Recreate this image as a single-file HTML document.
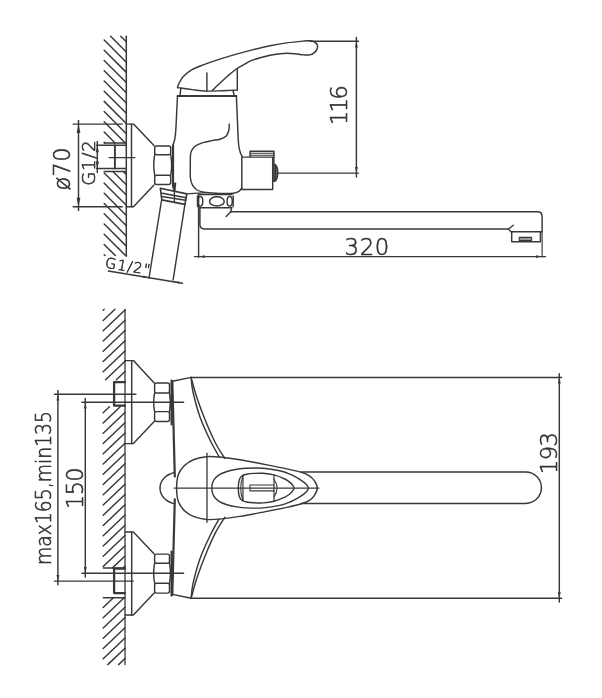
<!DOCTYPE html>
<html lang="en">
<head>
<meta charset="utf-8">
<title>Wall-mounted mixer tap - dimensional drawing</title>
<style>
html,body{margin:0;padding:0;background:#fff;}
body{width:602px;height:698px;overflow:hidden;}
svg{display:block;}
svg *{fill:none;stroke:#383838;stroke-width:1.45;stroke-linecap:round;stroke-linejoin:round;}
svg .ar{fill:#3a3a3a;stroke:none;}
svg .f{fill:#555;}
svg{will-change:transform;}
svg text{font-family:"DejaVu Sans","Liberation Sans",sans-serif;font-weight:200;fill:#333;stroke:#333;stroke-width:0.6;}
svg .bg{fill:#fff;stroke:none;}
</style>
</head>
<body>
<svg width="602" height="698" viewBox="0 0 602 698">
<rect class="bg" x="0" y="0" width="602" height="698"/>
<line x1="126.30" y1="36.20" x2="126.30" y2="256.20" style="stroke-width:1.5"/>
<path d="M120.78,36.20L126.30,41.72 M110.56,36.20L126.30,51.94 M104.20,40.06L126.30,62.16 M104.20,50.28L126.30,72.38 M104.20,60.50L126.30,82.60 M104.20,70.72L126.30,92.82 M104.20,80.94L126.30,103.04 M104.20,91.16L126.30,113.26 M104.20,101.38L126.30,123.48 M104.20,111.60L126.30,133.70 M104.20,121.82L125.28,142.90 M104.20,132.04L115.06,142.90 M104.20,142.26L104.84,142.90 M123.12,171.40L126.30,174.58 M112.90,171.40L126.30,184.80 M104.20,172.92L126.30,195.02 M104.20,183.14L126.30,205.24 M104.20,193.36L126.30,215.46 M104.20,203.58L126.30,225.68 M104.20,213.80L126.30,235.90 M104.20,224.02L126.30,246.12 M104.20,234.24L125.56,255.60 M104.20,244.46L115.34,255.60 M104.20,254.68L105.12,255.60" style="stroke-width:1.45;"/>
<line x1="104.20" y1="142.90" x2="126.30" y2="142.90"/>
<line x1="104.20" y1="171.40" x2="126.30" y2="171.40"/>
<line x1="96.60" y1="145.20" x2="126.30" y2="145.20"/>
<line x1="96.60" y1="168.40" x2="126.30" y2="168.40"/>
<line x1="114.90" y1="145.20" x2="114.90" y2="168.40" style="stroke-width:1.9"/>
<line x1="109.10" y1="157.60" x2="134.90" y2="157.60"/>
<line x1="73.20" y1="124.10" x2="122.20" y2="124.10"/>
<line x1="73.20" y1="206.80" x2="122.20" y2="206.80"/>
<line x1="78.50" y1="120.50" x2="78.50" y2="210.50"/>
<path d="M78.50,124.10 L80.40,133.10 L76.60,133.10 Z" class="ar"/>
<path d="M78.50,206.80 L76.60,197.80 L80.40,197.80 Z" class="ar"/>
<text transform="translate(69.60,169.00) rotate(-90)" font-size="22.4" text-anchor="middle" textLength="43.2" lengthAdjust="spacing">ø70</text>
<line x1="97.30" y1="141.50" x2="97.30" y2="172.50"/>
<path d="M97.30,145.20 L98.90,152.20 L95.70,152.20 Z" class="ar"/>
<path d="M97.30,168.40 L95.70,161.40 L98.90,161.40 Z" class="ar"/>
<text transform="translate(94.60,163.10) rotate(-90)" font-size="18.4" text-anchor="middle" textLength="45.5" lengthAdjust="spacing">G1/2</text>
<path d="M126.30,124.10 L133.50,124.10 L154.00,145.60"/>
<path d="M126.30,206.80 L133.50,206.80 L154.00,185.00"/>
<line x1="131.50" y1="124.10" x2="131.50" y2="206.80"/>
<path d="M156.70,146.00 L168.70,146.00 Q170.70,146.00 170.70,148.00 L170.70,152.80 Q170.70,154.80 168.70,154.80 L156.70,154.80 Q154.70,154.80 154.70,152.80 L154.70,148.00 Q154.70,146.00 156.70,146.00 Z"/>
<path d="M156.70,175.30 L168.70,175.30 Q170.70,175.30 170.70,177.30 L170.70,182.40 Q170.70,184.40 168.70,184.40 L156.70,184.40 Q154.70,184.40 154.70,182.40 L154.70,177.30 Q154.70,175.30 156.70,175.30 Z"/>
<path d="M154.70,154.80 Q152.80,165.05 154.70,175.30 M170.70,154.80 Q172.60,165.05 170.70,175.30"/>
<path d="M173.0,145.7 L173.0,186 L174.4,190.5 L175.2,183.5" style="stroke-width:2.2;"/>
<path d="M177.50,96.20 C177.38,98.50 177.08,104.37 176.80,110.00 C176.52,115.63 176.13,125.17 175.80,130.00 C175.47,134.83 175.32,136.38 174.80,139.00 C174.28,141.62 173.05,144.58 172.70,145.70"/>
<path d="M177.50,87.50 C177.78,86.75 178.23,84.83 179.20,83.00 C180.17,81.17 181.23,78.68 183.30,76.50 C185.37,74.32 188.28,71.83 191.60,69.90 C194.92,67.97 198.50,66.70 203.20,64.90 C207.90,63.10 214.27,60.90 219.80,59.10 C225.33,57.30 230.85,55.68 236.40,54.10 C241.95,52.52 247.50,50.98 253.10,49.60 C258.70,48.22 264.42,46.92 270.00,45.80 C275.58,44.68 281.07,43.68 286.60,42.90 C292.13,42.12 299.32,41.45 303.20,41.10 C307.08,40.75 308.00,40.65 309.90,40.80 C311.80,40.95 313.37,41.32 314.60,42.00 C315.83,42.68 316.90,43.72 317.30,44.90 C317.70,46.08 317.55,47.77 317.00,49.10 C316.45,50.43 315.18,51.93 314.00,52.90 C312.82,53.87 311.70,54.57 309.90,54.90 C308.10,55.23 305.70,55.10 303.20,54.90 C300.70,54.70 297.67,53.98 294.90,53.70 C292.13,53.42 289.37,53.15 286.60,53.20 C283.83,53.25 281.07,53.67 278.30,54.00 C275.53,54.33 274.20,54.22 270.00,55.20 C265.80,56.18 257.30,58.42 253.10,59.90 C248.90,61.38 247.58,62.58 244.80,64.10 C242.02,65.62 239.18,67.07 236.40,69.00 C233.62,70.93 230.87,73.33 228.10,75.70 C225.33,78.07 222.42,80.77 219.80,83.20 C217.18,85.63 213.63,89.12 212.40,90.30"/>
<path d="M177.50,87.60 C179.92,87.93 187.17,89.02 192.00,89.60 C196.83,90.18 201.50,90.92 206.50,91.10 C211.50,91.28 216.87,90.87 222.00,90.70 C227.13,90.53 234.75,90.20 237.30,90.10"/>
<line x1="237.30" y1="68.50" x2="237.30" y2="90.10"/>
<line x1="206.90" y1="72.90" x2="206.90" y2="91.30"/>
<line x1="180.80" y1="88.50" x2="180.00" y2="95.60"/>
<line x1="233.10" y1="90.60" x2="234.20" y2="95.60"/>
<line x1="177.50" y1="96.00" x2="236.40" y2="96.00" style="stroke-width:1.9"/>
<path d="M236.40,96.20 C236.53,99.33 236.93,108.53 237.20,115.00 C237.47,121.47 237.73,129.83 238.00,135.00 C238.27,140.17 238.42,143.08 238.80,146.00 C239.18,148.92 239.73,150.73 240.30,152.50 C240.87,154.27 241.88,155.92 242.20,156.60"/>
<path d="M229.20,124.20 C229.15,125.17 229.38,128.03 228.90,130.00 C228.42,131.97 227.78,134.47 226.30,136.00 C224.82,137.53 222.38,138.43 220.00,139.20 C217.62,139.97 214.83,140.03 212.00,140.60 C209.17,141.17 205.67,141.77 203.00,142.60 C200.33,143.43 197.83,144.40 196.00,145.60 C194.17,146.80 192.92,148.23 192.00,149.80 C191.08,151.37 190.78,151.72 190.50,155.00 C190.22,158.28 190.32,165.67 190.30,169.50 C190.28,173.33 190.03,175.38 190.40,178.00 C190.77,180.62 191.40,183.20 192.50,185.20 C193.60,187.20 195.08,188.83 197.00,190.00 C198.92,191.17 200.83,191.65 204.00,192.20 C207.17,192.75 212.33,193.08 216.00,193.30 C219.67,193.52 223.08,193.52 226.00,193.50 C228.92,193.48 231.50,193.47 233.50,193.20 C235.50,192.93 236.82,192.47 238.00,191.90 C239.18,191.33 239.97,190.48 240.60,189.80 C241.23,189.12 241.60,188.13 241.80,187.80"/>
<line x1="186.40" y1="193.90" x2="206.00" y2="192.60" style="stroke-width:1.2"/>
<path d="M241.80,157.10 L272.70,157.10 L272.70,189.50 L241.80,189.50 Z"/>
<path d="M250.10,157.00 L250.10,151.30 L273.90,151.30 L273.90,157.00" style="stroke-width:1.5;"/>
<line x1="250.40" y1="153.30" x2="273.80" y2="153.30" style="stroke-width:1.1"/>
<line x1="250.40" y1="155.20" x2="273.80" y2="155.20" style="stroke-width:1.1"/>
<line x1="273.90" y1="157.00" x2="273.90" y2="164.00"/>
<path d="M273.9,164.1 Q277.8,165 277.8,172.8 Q277.8,180.6 273.9,181.5 Z" style="fill:#777;"/>
<line x1="275.60" y1="164.80" x2="275.60" y2="180.80"/>
<line x1="277.80" y1="173.10" x2="358.50" y2="173.10"/>
<line x1="310.00" y1="41.20" x2="358.50" y2="41.20"/>
<line x1="356.40" y1="37.50" x2="356.40" y2="177.00"/>
<path d="M356.40,41.20 L357.85,47.40 L354.95,47.40 Z" class="ar"/>
<path d="M356.40,173.10 L354.95,166.90 L357.85,166.90 Z" class="ar"/>
<text transform="translate(346.70,105.00) rotate(-90)" font-size="23.2" text-anchor="middle" textLength="40.3" lengthAdjust="spacing">116</text>
<path d="M161.60,200.00 L149.00,278.00"/>
<path d="M184.90,204.40 L173.10,280.00"/>
<path d="M160.30,188.20 L186.90,193.90 L184.90,204.40 L161.80,199.90 Z" style="stroke-width:1.6;"/>
<line x1="162.20" y1="193.20" x2="186.20" y2="197.80" style="stroke-width:1.5"/>
<line x1="161.60" y1="196.40" x2="185.70" y2="200.20" style="stroke-width:1.5"/>
<line x1="174.40" y1="184.00" x2="174.40" y2="202.30" style="stroke-width:1.3"/>
<line x1="108.30" y1="271.00" x2="182.50" y2="283.20"/>
<path d="M149.00,277.70 L142.88,277.91 L143.27,275.55 Z" class="ar"/>
<path d="M173.30,281.70 L179.42,281.49 L179.03,283.85 Z" class="ar"/>
<text transform="translate(104.60,267.40) rotate(9.5)" font-size="14.4" text-anchor="start" textLength="45.2" lengthAdjust="spacing">G1/2&quot;</text>
<line x1="198.50" y1="194.50" x2="232.00" y2="194.50"/>
<line x1="199.00" y1="207.80" x2="231.50" y2="207.80"/>
<ellipse cx="200.4" cy="201.3" rx="2.4" ry="4.8"/>
<ellipse cx="216.9" cy="201.4" rx="7.3" ry="4.6"/>
<ellipse cx="229.7" cy="201.3" rx="2.6" ry="4.8"/>
<line x1="197.50" y1="196.00" x2="197.50" y2="206.50"/>
<line x1="233.20" y1="196.00" x2="233.20" y2="206.50"/>
<path d="M230.7,211.8 L537.5,211.8 Q542.1,211.8 542.1,216.4 L542.1,231.7"/>
<line x1="542.10" y1="231.70" x2="542.10" y2="257.00" style="stroke-width:1.15"/>
<line x1="226.20" y1="216.40" x2="230.70" y2="211.80"/>
<line x1="230.70" y1="211.80" x2="231.80" y2="207.50"/>
<path d="M199.9,207.8 L199.9,224.6 Q199.9,228.9 204.4,228.9 L508.5,228.9"/>
<path d="M513.30,225.20 L508.60,229.00 L510.80,231.60"/>
<line x1="511.00" y1="231.70" x2="542.10" y2="231.70"/>
<path d="M511.70,232.20 L511.70,241.70 L540.40,241.70 L540.40,232.20"/>
<path d="M519.2,237.4 L531.6,237.4 L531.6,240.6 L519.2,240.6 Z" style="stroke-width:1.1;fill:#999;"/>
<line x1="198.60" y1="194.50" x2="198.60" y2="257.20"/>
<line x1="194.50" y1="256.60" x2="545.50" y2="256.60"/>
<path d="M198.60,256.60 L204.80,255.15 L204.80,258.05 Z" class="ar"/>
<path d="M542.10,256.60 L535.90,258.05 L535.90,255.15 Z" class="ar"/>
<text transform="translate(366.90,254.70) rotate(0)" font-size="22.8" text-anchor="middle" textLength="44.6" lengthAdjust="spacing">320</text>
<line x1="125.00" y1="309.50" x2="125.00" y2="664.60" style="stroke-width:1.3"/>
<path d="M103.20,310.20L104.15,309.30 M103.20,320.45L114.94,309.30 M103.20,330.70L125.00,309.99 M103.20,340.95L125.00,320.24 M103.20,351.20L125.00,330.49 M103.20,361.45L125.00,340.74 M103.20,371.70L125.00,350.99 M105.57,379.70L125.00,361.24 M116.36,379.70L125.00,371.49 M103.20,412.70L109.41,406.80 M103.20,422.95L120.20,406.80 M103.20,433.20L125.00,412.49 M103.20,443.45L125.00,422.74 M103.20,453.70L125.00,432.99 M103.20,463.95L125.00,443.24 M103.20,474.20L125.00,453.49 M103.20,484.45L125.00,463.74 M103.20,494.70L125.00,473.99 M103.20,504.95L125.00,484.24 M103.20,515.20L125.00,494.49 M103.20,525.45L125.00,504.74 M103.20,535.70L125.00,514.99 M103.20,545.95L125.00,525.24 M103.20,556.20L125.00,535.49 M103.20,566.45L125.00,545.74 M112.46,567.90L125.00,555.99 M123.25,567.90L125.00,566.24 M103.20,607.45L113.36,597.80 M103.20,617.70L124.15,597.80 M103.20,627.95L125.00,607.24 M103.20,638.20L125.00,617.49 M103.20,648.45L125.00,627.74 M103.20,658.70L125.00,637.99 M107.78,664.60L125.00,648.24 M118.57,664.60L125.00,658.49" style="stroke-width:1.45;"/>
<line x1="103.30" y1="567.90" x2="125.00" y2="567.90"/>
<line x1="103.30" y1="597.80" x2="125.00" y2="597.80"/>
<path d="M125.00,360.60 L133.40,360.60 L154.20,383.00"/>
<path d="M125.00,443.60 L133.40,443.60 L154.20,421.50"/>
<line x1="131.70" y1="360.60" x2="131.70" y2="443.60"/>
<path d="M156.60,383.00 L167.50,383.00 Q169.50,383.00 169.50,385.00 L169.50,391.00 Q169.50,393.00 167.50,393.00 L156.60,393.00 Q154.60,393.00 154.60,391.00 L154.60,385.00 Q154.60,383.00 156.60,383.00 Z"/>
<path d="M156.60,411.60 L167.50,411.60 Q169.50,411.60 169.50,413.60 L169.50,419.50 Q169.50,421.50 167.50,421.50 L156.60,421.50 Q154.60,421.50 154.60,419.50 L154.60,413.60 Q154.60,411.60 156.60,411.60 Z"/>
<path d="M154.60,393.00 Q152.70,402.30 154.60,411.60 M169.50,393.00 Q171.40,402.30 169.50,411.60"/>
<path d="M125.00,382.20 L114.10,382.20 L114.10,405.70 L125.00,405.70" style="stroke-width:2.3;"/>
<path d="M125.00,532.00 L133.40,532.00 L154.20,554.10"/>
<path d="M125.00,615.00 L133.40,615.00 L154.20,593.10"/>
<line x1="131.70" y1="532.00" x2="131.70" y2="615.00"/>
<path d="M156.60,554.10 L167.50,554.10 Q169.50,554.10 169.50,556.10 L169.50,561.20 Q169.50,563.20 167.50,563.20 L156.60,563.20 Q154.60,563.20 154.60,561.20 L154.60,556.10 Q154.60,554.10 156.60,554.10 Z"/>
<path d="M156.60,583.20 L167.50,583.20 Q169.50,583.20 169.50,585.20 L169.50,591.10 Q169.50,593.10 167.50,593.10 L156.60,593.10 Q154.60,593.10 154.60,591.10 L154.60,585.20 Q154.60,583.20 156.60,583.20 Z"/>
<path d="M154.60,563.20 Q152.70,573.20 154.60,583.20 M169.50,563.20 Q171.40,573.20 169.50,583.20"/>
<path d="M125.00,568.60 L114.10,568.60 L114.10,593.10 L125.00,593.10" style="stroke-width:2.3;"/>
<line x1="171.60" y1="380.50" x2="171.60" y2="424.50" style="stroke-width:2.2"/>
<line x1="171.60" y1="551.60" x2="171.60" y2="595.60" style="stroke-width:2.2"/>
<line x1="57.90" y1="390.50" x2="57.90" y2="584.80"/>
<line x1="54.50" y1="394.20" x2="135.90" y2="394.20"/>
<line x1="54.50" y1="581.10" x2="133.40" y2="581.10"/>
<path d="M57.90,394.20 L59.35,400.40 L56.45,400.40 Z" class="ar"/>
<path d="M57.90,581.10 L56.45,574.90 L59.35,574.90 Z" class="ar"/>
<line x1="85.30" y1="398.50" x2="85.30" y2="577.00"/>
<line x1="82.00" y1="402.20" x2="183.60" y2="402.20"/>
<line x1="82.00" y1="573.30" x2="183.60" y2="573.30"/>
<path d="M85.30,402.20 L86.75,408.40 L83.85,408.40 Z" class="ar"/>
<path d="M85.30,573.30 L83.85,567.10 L86.75,567.10 Z" class="ar"/>
<text transform="translate(51.30,488.00) rotate(-90)" font-size="21" text-anchor="middle" textLength="154.0" lengthAdjust="spacingAndGlyphs">max165,min135</text>
<text transform="translate(82.80,488.20) rotate(-90)" font-size="22.4" text-anchor="middle" textLength="41.5" lengthAdjust="spacing">150</text>
<line x1="191.10" y1="377.40" x2="561.50" y2="377.40"/>
<line x1="191.10" y1="598.30" x2="561.50" y2="598.30"/>
<line x1="172.60" y1="381.30" x2="191.10" y2="377.40"/>
<line x1="172.60" y1="594.40" x2="191.10" y2="598.30"/>
<path d="M172.30,381.00 C172.52,389.17 173.18,414.08 173.60,430.00 C174.02,445.92 174.60,468.75 174.80,476.50" style="stroke-width:2.2;"/>
<path d="M172.30,594.60 C172.52,586.43 173.18,561.47 173.60,545.60 C174.02,529.73 174.60,507.10 174.80,499.40" style="stroke-width:2.2;"/>
<path d="M191.10,377.40 C192.08,380.83 194.52,390.57 197.00,398.00 C199.48,405.43 202.83,414.33 206.00,422.00 C209.17,429.67 212.87,437.93 216.00,444.00 C219.13,450.07 223.33,456.00 224.80,458.40"/>
<path d="M191.10,377.40 C191.42,379.83 191.52,385.40 193.00,392.00 C194.48,398.60 197.17,409.00 200.00,417.00 C202.83,425.00 206.83,433.42 210.00,440.00 C213.17,446.58 217.50,453.75 219.00,456.50"/>
<path d="M191.10,598.30 C192.08,594.87 194.52,585.13 197.00,577.70 C199.48,570.27 202.83,561.37 206.00,553.70 C209.17,546.03 212.87,537.77 216.00,531.70 C219.13,525.63 223.33,519.70 224.80,517.30"/>
<path d="M191.10,598.30 C191.42,595.87 191.52,590.30 193.00,583.70 C194.48,577.10 197.17,566.70 200.00,558.70 C202.83,550.70 206.83,542.28 210.00,535.70 C213.17,529.12 217.50,521.95 219.00,519.20"/>
<path d="M174.30,472.40 C173.75,472.60 172.28,473.03 171.00,473.60 C169.72,474.17 168.00,474.77 166.60,475.80 C165.20,476.83 163.65,478.27 162.60,479.80 C161.55,481.33 160.68,483.10 160.30,485.00 C159.92,486.90 159.92,489.30 160.30,491.20 C160.68,493.10 161.55,494.87 162.60,496.40 C163.65,497.93 165.20,499.37 166.60,500.40 C168.00,501.43 169.72,502.03 171.00,502.60 C172.28,503.17 173.75,503.60 174.30,503.80"/>
<path d="M176.60,488.10 C176.60,483.57 177.08,478.27 178.40,474.50 C179.72,470.73 181.90,468.00 184.50,465.50 C187.10,463.00 190.33,460.97 194.00,459.50 C197.67,458.03 201.83,457.07 206.50,456.70 C211.17,456.33 216.42,456.78 222.00,457.30 C227.58,457.82 233.13,458.67 240.00,459.80 C246.87,460.93 255.18,462.55 263.20,464.10 C271.22,465.65 281.73,467.72 288.10,469.10 C294.47,470.48 297.92,471.32 301.40,472.40 C304.88,473.48 306.85,474.23 309.00,475.60 C311.15,476.97 312.92,478.52 314.30,480.60 C315.68,482.68 317.30,485.60 317.30,488.10 C317.30,490.60 315.68,493.52 314.30,495.60 C312.92,497.68 311.15,499.23 309.00,500.60 C306.85,501.97 304.88,502.72 301.40,503.80 C297.92,504.88 294.47,505.72 288.10,507.10 C281.73,508.48 271.22,510.55 263.20,512.10 C255.18,513.65 246.87,515.27 240.00,516.40 C233.13,517.53 227.58,518.38 222.00,518.90 C216.42,519.42 211.17,519.87 206.50,519.50 C201.83,519.13 197.67,518.17 194.00,516.70 C190.33,515.23 187.10,513.20 184.50,510.70 C181.90,508.20 179.72,505.47 178.40,501.70 C177.08,497.93 176.60,492.63 176.60,488.10 Z"/>
<path d="M211.80,488.10 C211.80,485.57 212.30,482.72 213.50,480.50 C214.70,478.28 216.75,476.30 219.00,474.80 C221.25,473.30 224.00,472.42 227.00,471.50 C230.00,470.58 233.73,469.83 237.00,469.30 C240.27,468.77 242.23,468.47 246.60,468.30 C250.97,468.13 257.67,467.88 263.20,468.30 C268.73,468.72 275.33,469.82 279.80,470.80 C284.27,471.78 286.88,472.90 290.00,474.20 C293.12,475.50 296.10,477.20 298.50,478.60 C300.90,480.00 302.92,481.43 304.40,482.60 C305.88,483.77 306.77,484.68 307.40,485.60 C308.03,486.52 308.20,487.27 308.20,488.10 C308.20,488.93 308.03,489.68 307.40,490.60 C306.77,491.52 305.88,492.43 304.40,493.60 C302.92,494.77 300.90,496.20 298.50,497.60 C296.10,499.00 293.12,500.70 290.00,502.00 C286.88,503.30 284.27,504.42 279.80,505.40 C275.33,506.38 268.73,507.48 263.20,507.90 C257.67,508.32 250.97,508.07 246.60,507.90 C242.23,507.73 240.27,507.43 237.00,506.90 C233.73,506.37 230.00,505.62 227.00,504.70 C224.00,503.78 221.25,502.90 219.00,501.40 C216.75,499.90 214.70,497.92 213.50,495.70 C212.30,493.48 211.80,490.63 211.80,488.10 Z"/>
<path d="M238.30,488.10 C238.30,485.40 238.62,482.02 239.20,480.00 C239.78,477.98 240.57,476.97 241.80,476.00 C243.03,475.03 244.57,474.63 246.60,474.20 C248.63,473.77 251.23,473.55 254.00,473.40 C256.77,473.25 259.87,473.05 263.20,473.30 C266.53,473.55 270.40,473.95 274.00,474.90 C277.60,475.85 282.13,477.75 284.80,479.00 C287.47,480.25 288.62,481.27 290.00,482.40 C291.38,483.53 292.43,484.85 293.10,485.80 C293.77,486.75 294.00,487.33 294.00,488.10 C294.00,488.87 293.77,489.45 293.10,490.40 C292.43,491.35 291.38,492.67 290.00,493.80 C288.62,494.93 287.47,495.95 284.80,497.20 C282.13,498.45 277.60,500.35 274.00,501.30 C270.40,502.25 266.53,502.65 263.20,502.90 C259.87,503.15 256.77,502.95 254.00,502.80 C251.23,502.65 248.63,502.43 246.60,502.00 C244.57,501.57 243.03,501.17 241.80,500.20 C240.57,499.23 239.78,498.22 239.20,496.20 C238.62,494.18 238.30,490.80 238.30,488.10 Z"/>
<path d="M243,475.6 Q238.4,488.1 243,500.6" style="stroke-width:1.1;"/>
<line x1="243.00" y1="475.60" x2="243.00" y2="500.60" style="stroke-width:1.2"/>
<path d="M274,479.2 Q280.2,488.1 274,497" style="stroke-width:1.1;"/>
<line x1="274.00" y1="475.10" x2="274.00" y2="501.10" style="stroke-width:1.2"/>
<path d="M250,485 L274,485 M250,490.9 L274,490.9 M250,485 L250,490.9" style="stroke-width:1.1;"/>
<line x1="174.10" y1="488.10" x2="318.90" y2="488.10" style="stroke-width:1.2"/>
<line x1="207.00" y1="453.30" x2="207.00" y2="522.40" style="stroke-width:1.3"/>
<path d="M301.1,472.0 L525.7,472.0 A15.7,15.7 0 0 1 525.7,503.4 L301.1,503.4"/>
<line x1="559.30" y1="373.70" x2="559.30" y2="602.00"/>
<path d="M559.30,377.40 L560.75,383.60 L557.85,383.60 Z" class="ar"/>
<path d="M559.30,598.30 L557.85,592.10 L560.75,592.10 Z" class="ar"/>
<text transform="translate(556.80,453.20) rotate(-90)" font-size="23.2" text-anchor="middle" textLength="42.3" lengthAdjust="spacing">193</text>
</svg>
</body>
</html>
